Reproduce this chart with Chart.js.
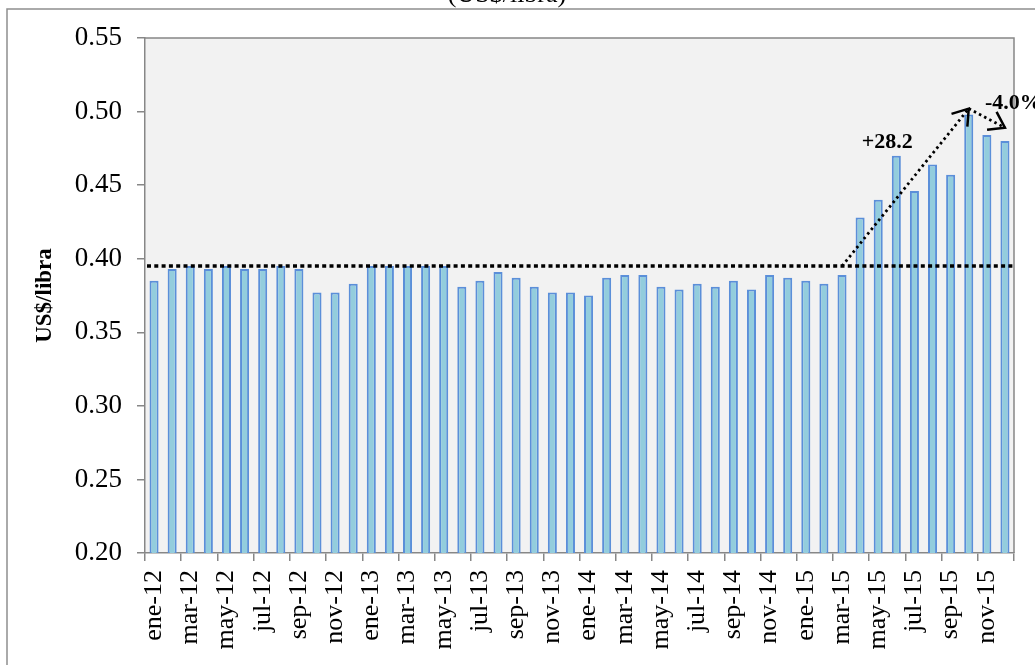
<!DOCTYPE html>
<html>
<head>
<meta charset="utf-8">
<script src="https://cdn.jsdelivr.net/npm/chart.js@4"></script>
<style>
  html, body { margin: 0; padding: 0; background: #fff; }
  #wrap { width: 1035px; height: 665px; }
</style>
</head>
<body>
<div id="wrap"><canvas id="chart" width="1035" height="665"></canvas></div>
<script>
// monthly price, US$/libra
const months = [
  'ene-12','feb-12','mar-12','abr-12','may-12','jun-12','jul-12','ago-12','sep-12','oct-12','nov-12','dic-12',
  'ene-13','feb-13','mar-13','abr-13','may-13','jun-13','jul-13','ago-13','sep-13','oct-13','nov-13','dic-13',
  'ene-14','feb-14','mar-14','abr-14','may-14','jun-14','jul-14','ago-14','sep-14','oct-14','nov-14','dic-14',
  'ene-15','feb-15','mar-15','abr-15','may-15','jun-15','jul-15','ago-15','sep-15','oct-15','nov-15','dic-15'
];
const prices = [
  0.385, 0.393, 0.395, 0.393, 0.395, 0.393, 0.393, 0.395, 0.393, 0.377, 0.377, 0.383,
  0.395, 0.395, 0.395, 0.395, 0.395, 0.381, 0.385, 0.391, 0.387, 0.381, 0.377, 0.377,
  0.375, 0.387, 0.389, 0.389, 0.381, 0.379, 0.383, 0.381, 0.385, 0.379, 0.389, 0.387,
  0.385, 0.383, 0.389, 0.428, 0.440, 0.470, 0.446, 0.464, 0.457, 0.498, 0.484, 0.480
];
const yTicks = [0.20, 0.25, 0.30, 0.35, 0.40, 0.45, 0.50, 0.55];

// reference level and the two arrows (category index, value)
const refLevel = 0.395;
const riseArrow = [[38, 0.395], [45, 0.502]];
const fallArrow = [[45, 0.502], [47, 0.489]];
const notes = [
  { text: '+28.2', at: [40.5, 0.475], align: 'center' },
  { text: '-4.0%', at: [45.9, 0.502], align: 'left' }
];

const SERIF = '"Liberation Serif", "Times New Roman", serif';
const AXIS = '#878787';

function arrowHead(ctx, x0, y0, x1, y1) {
  const a = Math.atan2(y1 - y0, x1 - x0);
  const len = 18, spread = 0.6;
  ctx.beginPath();
  ctx.moveTo(x1 - len * Math.cos(a - spread), y1 - len * Math.sin(a - spread));
  ctx.lineTo(x1, y1);
  ctx.lineTo(x1 - len * Math.cos(a + spread), y1 - len * Math.sin(a + spread));
  ctx.stroke();
}

const decor = {
  id: 'decor',
  beforeDraw(chart) {
    const { ctx, chartArea: a } = chart;
    ctx.save();
    // outer frame (only top and left show)
    ctx.strokeStyle = '#8f8f8f';
    ctx.lineWidth = 1.5;
    ctx.beginPath();
    ctx.moveTo(7, 1000);
    ctx.lineTo(7, 9);
    ctx.lineTo(1100, 9);
    ctx.stroke();
    // plot background
    ctx.fillStyle = '#f2f2f2';
    ctx.fillRect(a.left, a.top, a.right - a.left, a.bottom - a.top);
    ctx.restore();
  },
  afterDatasetsDraw(chart) {
    const { ctx, chartArea: a } = chart;
    const x = chart.scales.x, y = chart.scales.y;
    const px = p => [x.getPixelForValue(p[0]), y.getPixelForValue(p[1])];
    ctx.save();
    // plot border top / right
    ctx.strokeStyle = AXIS;
    ctx.lineWidth = 1.5;
    ctx.beginPath();
    ctx.moveTo(a.left, a.top);
    ctx.lineTo(a.right, a.top);
    ctx.lineTo(a.right, a.bottom);
    ctx.stroke();

    // reference dotted line
    const yr = y.getPixelForValue(refLevel);
    ctx.strokeStyle = '#000';
    ctx.lineWidth = 3.5;
    ctx.setLineDash([4, 3.3]);
    ctx.beginPath();
    ctx.moveTo(a.left + 2, yr);
    ctx.lineTo(a.right, yr);
    ctx.stroke();

    // arrows
    [riseArrow, fallArrow].forEach(arr => {
      const [x0, y0] = px(arr[0]);
      const [x1, y1] = px(arr[1]);
      ctx.setLineDash([2.5, 3.3]);
      ctx.lineWidth = 2.8;
      ctx.beginPath();
      ctx.moveTo(x0, y0);
      ctx.lineTo(x1, y1);
      ctx.stroke();
      ctx.setLineDash([]);
      ctx.lineWidth = 2.5;
      arrowHead(ctx, x0, y0, x1, y1);
    });

    // labels
    ctx.fillStyle = '#000';
    ctx.font = 'bold 22px ' + SERIF;
    ctx.textBaseline = 'alphabetic';
    notes.forEach(n => {
      const [tx, ty] = px(n.at);
      ctx.textAlign = n.align;
      ctx.fillText(n.text, tx, ty);
    });
    ctx.restore();
  }
};

new Chart(document.getElementById('chart'), {
  type: 'bar',
  data: {
    labels: months,
    datasets: [{
      data: prices,
      backgroundColor: '#93cddd',
      borderColor: '#5b8fd9',
      borderWidth: 2,
      barPercentage: 0.5,
      categoryPercentage: 1
    }]
  },
  options: {
    responsive: false,
    animation: false,
    layout: { padding: { left: 0, right: 21, top: 0, bottom: 0 } },
    plugins: {
      legend: { display: false },
      tooltip: { enabled: false },
      title: {
        display: true,
        text: '(US$/libra)',
        color: '#000',
        font: { family: SERIF, size: 26, weight: 'normal', lineHeight: 1.2 },
        padding: { top: -20, bottom: 26.8 }
      }
    },
    scales: {
      x: {
        offset: true,
        afterFit: s => { s.height = 112; s.paddingLeft = 0; s.paddingRight = 0; },
        border: { display: true, color: AXIS, width: 1.5 },
        grid: {
          offset: true,
          drawOnChartArea: false,
          drawTicks: true,
          tickLength: 8,
          lineWidth: 1.5,
          color: c => (c.index === undefined || c.index % 2 === 0) ? AXIS : 'rgba(0,0,0,0)'
        },
        ticks: {
          autoSkip: false,
          maxRotation: 90,
          minRotation: 90,
          padding: 9,
          color: '#000',
          font: { family: SERIF, size: 26 },
          callback: (v, i) => i % 2 === 0 ? months[i] : ''
        }
      },
      y: {
        min: yTicks[0],
        max: yTicks[yTicks.length - 1],
        afterFit: s => { s.width = 145; },
        afterBuildTicks: s => { s.ticks = yTicks.map(v => ({ value: v })); },
        border: { display: true, color: AXIS, width: 1.5 },
        grid: {
          drawOnChartArea: false,
          drawTicks: true,
          tickLength: 8,
          lineWidth: 1.5,
          color: AXIS
        },
        ticks: {
          padding: 15,
          color: '#000',
          font: { family: SERIF, size: 27 },
          callback: v => v.toFixed(2)
        },
        title: {
          display: true,
          text: 'US$/libra',
          color: '#000',
          font: { family: SERIF, size: 23, weight: 'bold', lineHeight: 1.2 },
          padding: { top: 31, bottom: 0 }
        }
      }
    }
  },
  plugins: [decor]
});
</script>
</body>
</html>
